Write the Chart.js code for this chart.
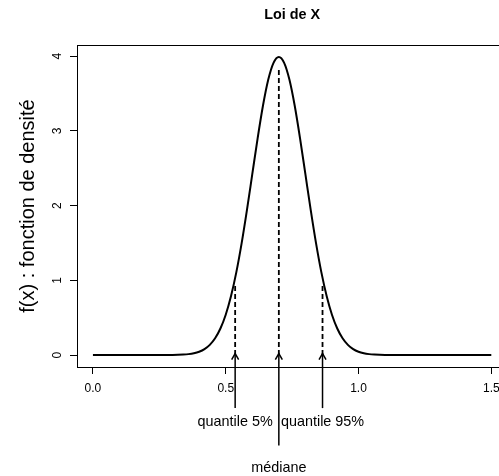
<!DOCTYPE html>
<html><head><meta charset="utf-8">
<script src="https://cdn.jsdelivr.net/npm/chart.js@4"></script>
<style>html,body{margin:0;padding:0;background:#fff;overflow:hidden}#c{display:block}</style>
</head><body>
<canvas id="c" width="499" height="476"></canvas>
<script>
// density curve (peak ~3.99 at x = 0.7)
const densityX = [0, 0.1, 0.2, 0.30, 0.32, 0.34, 0.36, 0.38, 0.40, 0.42, 0.44, 0.46, 0.48, 0.50, 0.52, 0.54, 0.56, 0.58, 0.60, 0.62, 0.64, 0.66, 0.68, 0.70,
  0.72, 0.74, 0.76, 0.78, 0.80, 0.82, 0.84, 0.86, 0.88, 0.90, 0.92, 0.94, 0.96, 0.98, 1.00, 1.02, 1.04, 1.06, 1.08, 1.10, 1.2, 1.3, 1.4, 1.5];
const densityY = [0, 0, 0, 0.0013, 0.0029, 0.0061, 0.0123, 0.0238, 0.0443, 0.0792, 0.136, 0.224, 0.355, 0.540, 0.790, 1.109, 1.497, 1.942, 2.420, 2.897, 3.332, 3.683, 3.910, 3.989,
  3.910, 3.683, 3.332, 2.897, 2.420, 1.942, 1.497, 1.109, 0.790, 0.540, 0.355, 0.224, 0.136, 0.0792, 0.0443, 0.0238, 0.0123, 0.0061, 0.0029, 0.0013, 0, 0, 0, 0];
const xTicks = [0, 0.5, 1.0, 1.5];
const yTicks = [0, 1, 2, 3, 4];
const markerNames = ['quantile 5%', 'médiane', 'quantile 95%'];
const markerX = [0.5355, 0.70, 0.8645];
const dashTop = [0.94, 3.85, 0.94];
const arrowBase = [-0.71, -1.21, -0.71];
const arrowTip = 0.02;
const chartTitle = 'Loi de X';
const yTitle = 'f(x) : fonction de densité';

const FONT = '"Liberation Sans", Arial, Helvetica, sans-serif';

const datasets = [{
  data: densityX.map((x, i) => ({x: x, y: densityY[i]})),
  borderColor: '#000', borderWidth: 2, pointRadius: 0,
  cubicInterpolationMode: 'monotone', fill: false
}];
markerX.forEach((mx, i) => {
  datasets.push({
    data: [{x: mx, y: 0}, {x: mx, y: dashTop[i]}],
    borderColor: '#000', borderWidth: 1.8, borderDash: [5, 3], pointRadius: 0, fill: false
  });
  datasets.push({
    data: [{x: mx, y: arrowBase[i]}, {x: mx, y: arrowTip}],
    borderColor: '#000', borderWidth: 1.5, pointRadius: 0, fill: false, clip: false
  });
});

const annot = {
  id: 'annot',
  afterDraw(chart) {
    const {ctx, chartArea, scales: {x, y}} = chart;
    ctx.save();
    // top border of the box
    ctx.strokeStyle = '#000'; ctx.lineWidth = 1;
    ctx.beginPath();
    ctx.moveTo(chartArea.left, Math.round(chartArea.top) + 0.5);
    ctx.lineTo(chartArea.right + 10, Math.round(chartArea.top) + 0.5);
    ctx.stroke();
    // arrow heads
    ctx.lineWidth = 1.5;
    const L = 7, ang = Math.PI / 6;
    markerX.forEach(mx => {
      const px = x.getPixelForValue(mx), py = y.getPixelForValue(arrowTip);
      ctx.beginPath();
      ctx.moveTo(px - L * Math.sin(ang), py + L * Math.cos(ang));
      ctx.lineTo(px, py);
      ctx.lineTo(px + L * Math.sin(ang), py + L * Math.cos(ang));
      ctx.stroke();
    });
    // labels
    ctx.fillStyle = '#000';
    ctx.textAlign = 'center'; ctx.textBaseline = 'middle';
    ctx.font = '14.4px ' + FONT;
    const labelY = [422, 468, 422];
    markerNames.forEach((t, i) => ctx.fillText(t, x.getPixelForValue(markerX[i]), labelY[i]));
    // main title centred over the plot region
    ctx.font = 'bold 14.4px ' + FONT;
    ctx.fillText(chartTitle, x.getPixelForValue(0.75), 15.5);
    ctx.restore();
  }
};

new Chart(document.getElementById('c'), {
  type: 'line',
  data: {datasets: datasets},
  plugins: [annot],
  options: {
    responsive: false, animation: false, devicePixelRatio: 1,
    layout: {padding: {top: 45, right: 0, bottom: 0, left: 0}},
    plugins: {legend: {display: false}, tooltip: {enabled: false}, title: {display: false}},
    scales: {
      x: {
        type: 'linear', min: -0.06, max: 1.529,
        afterBuildTicks: s => { s.ticks = xTicks.map(v => ({value: v})); },
        afterFit: s => { s.height = 109; s.paddingLeft = 0; s.paddingRight = 0; },
        grid: {drawOnChartArea: false, drawTicks: true, tickLength: 7, color: '#000', lineWidth: 1},
        border: {display: true, color: '#000', width: 1},
        ticks: {color: '#000', font: {family: FONT, size: 12}, padding: 7, maxRotation: 0,
          callback: v => Number(v).toFixed(1)}
      },
      y: {
        type: 'linear', min: -0.16, max: 4.149,
        afterBuildTicks: s => { s.ticks = yTicks.map(v => ({value: v})); },
        afterFit: s => { s.width = 77; s.paddingTop = 0; s.paddingBottom = 0; },
        grid: {drawOnChartArea: false, drawTicks: true, tickLength: 7, color: '#000', lineWidth: 1},
        border: {display: true, color: '#000', width: 1},
        ticks: {color: '#000', font: {family: FONT, size: 12}, padding: 9, minRotation: 90, maxRotation: 90,
          crossAlign: 'center', callback: v => String(v)},
        title: {display: true, text: yTitle, color: '#000', font: {family: FONT, size: 20}, padding: {top: 16, bottom: 0}}
      }
    }
  }
});
</script>
</body></html>
